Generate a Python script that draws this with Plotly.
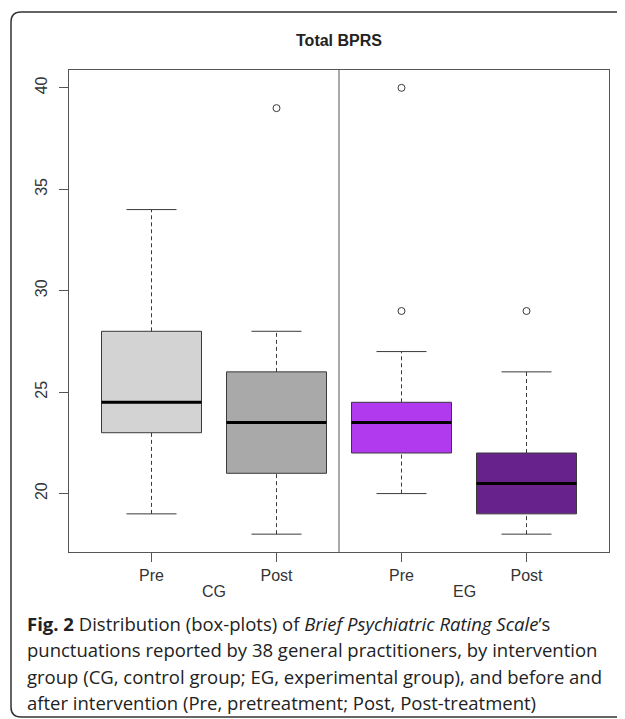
import plotly.graph_objects as go

# ---- data ----
categories = ["Pre", "Post", "Pre", "Post"]
groups = ["CG", "EG"]
group_of = [0, 0, 1, 1]
low_whisker = [19, 18, 20, 18]
q1 = [23, 21, 22, 19]
median = [24.5, 23.5, 23.5, 20.5]
q3 = [28, 26, 24.5, 22]
high_whisker = [34, 28, 27, 26]
outliers = [[], [39], [29, 40], [29]]
fill_colors = ["#D3D3D3", "#A9A9A9", "#B23AEE", "#68228B"]
y_ticks = [20, 25, 30, 35, 40]

# page body has an 8px margin, so the figure is laid out in page coords minus 8
OFF = 8
W, H = 625 - OFF, 719 - OFF
L, T = 69 - OFF, 70 - OFF
R = W - (609 - OFF)
B = H - (552 - OFF)
PW, PH = W - L - R, H - T - B

positions = list(range(1, len(categories) + 1))
half_box = 0.4
half_cap = 0.2
edge = "#3a3a3a"

fig = go.Figure()
for i, p in enumerate(positions):
    fig.add_trace(go.Scatter(
        x=[p - half_box, p + half_box, p + half_box, p - half_box, p - half_box],
        y=[q1[i], q1[i], q3[i], q3[i], q1[i]],
        mode="lines", fill="toself", fillcolor=fill_colors[i],
        line=dict(color=edge, width=1), hoverinfo="skip", showlegend=False))
    fig.add_trace(go.Scatter(x=[p, p, None, p, p],
                             y=[low_whisker[i], q1[i], None, q3[i], high_whisker[i]],
                             mode="lines", line=dict(color=edge, width=1, dash="4px,3px"),
                             hoverinfo="skip", showlegend=False))
    fig.add_trace(go.Scatter(x=[p - half_cap, p + half_cap, None, p - half_cap, p + half_cap],
                             y=[low_whisker[i], low_whisker[i], None, high_whisker[i], high_whisker[i]],
                             mode="lines", line=dict(color=edge, width=1),
                             hoverinfo="skip", showlegend=False))
    fig.add_trace(go.Scatter(x=[p - half_box, p + half_box], y=[median[i], median[i]],
                             mode="lines", line=dict(color="black", width=3),
                             hoverinfo="skip", showlegend=False))
    if outliers[i]:
        fig.add_trace(go.Scatter(x=[p] * len(outliers[i]), y=outliers[i], mode="markers",
                                 marker=dict(symbol="circle-open", size=7,
                                             line=dict(color=edge, width=1), color=edge),
                                 hoverinfo="skip", showlegend=False))

all_vals = low_whisker + high_whisker + [v for o in outliers for v in o]
ymin, ymax = min(all_vals), max(all_vals)
pad = 0.04 * (ymax - ymin)
xpad = 0.04 * len(categories)

tickfont = dict(family="Liberation Sans, Arial", size=16, color="#333")
fig.update_xaxes(range=[0.5 - xpad, len(categories) + 0.5 + xpad],
                 tickvals=positions, ticktext=categories,
                 showline=True, mirror=True, linecolor="#555", linewidth=1,
                 ticks="outside", ticklen=9, tickcolor="#555",
                 showgrid=False, zeroline=False, tickfont=tickfont)
fig.update_yaxes(range=[ymin - pad, ymax + pad], tickvals=y_ticks,
                 showline=True, mirror=True, linecolor="#555", linewidth=1,
                 ticks="outside", ticklen=9, tickcolor="#555", tickangle=-90,
                 ticklabelstandoff=6,
                 showgrid=False, zeroline=False, tickfont=tickfont)

divider = (positions[1] + positions[2]) / 2
fig.add_shape(type="line", xref="x", yref="paper", x0=divider, x1=divider, y0=0, y1=1,
              line=dict(color="#555", width=1))

annotations = []
for g in range(len(groups)):
    xs = [positions[i] for i in range(len(categories)) if group_of[i] == g]
    annotations.append(dict(x=sum(xs) / len(xs), y=0, xref="x", yref="paper",
                            text=groups[g], showarrow=False, yanchor="middle", yshift=-39,
                            font=tickfont))

caption = [
    "<b>Fig. 2</b> Distribution (box-plots) of <i>Brief Psychiatric Rating Scale</i>’s",
    "punctuations reported by 38 general practitioners, by intervention",
    "group (CG, control group; EG, experimental group), and before and",
    "after intervention (Pre, pretreatment; Post, Post-treatment)",
]
cap_y = [623, 649.5, 676, 702]
for line, pyv in zip(caption, cap_y):
    annotations.append(dict(x=(25 - OFF - L) / PW, y=0, xref="paper", yref="paper",
                            xanchor="left", yanchor="middle", yshift=-(pyv - 552),
                            text=line, showarrow=False,
                            font=dict(family="Open Sans", size=18.5, color="#222")))

def px(x):
    return (x - OFF - L) / PW

def py_(y):
    return (552 - y) / PH

r = 10
x0, y0, x1, y1 = 11, 12, 640, 717
path = (f"M {px(x0)},{py_(y0 + r)} Q {px(x0)},{py_(y0)} {px(x0 + r)},{py_(y0)} "
        f"L {px(x1)},{py_(y0)} M {px(x0)},{py_(y0 + r)} L {px(x0)},{py_(y1 - r)} "
        f"Q {px(x0)},{py_(y1)} {px(x0 + r)},{py_(y1)} L {px(x1)},{py_(y1)}")
fig.add_shape(type="path", xref="paper", yref="paper", path=path,
              line=dict(color="#333", width=1.5))

fig.update_layout(
    width=W, height=H, margin=dict(l=L, r=R, t=T, b=B),
    paper_bgcolor="white", plot_bgcolor="white",
    title=dict(text="<b>Total BPRS</b>", x=(L + PW / 2) / W, xanchor="center",
               y=1 - (40 - OFF) / H, yanchor="middle",
               font=dict(family="Liberation Sans, Arial", size=16, color="#222")),
    annotations=annotations,
)

fig.write_html("out.html")
